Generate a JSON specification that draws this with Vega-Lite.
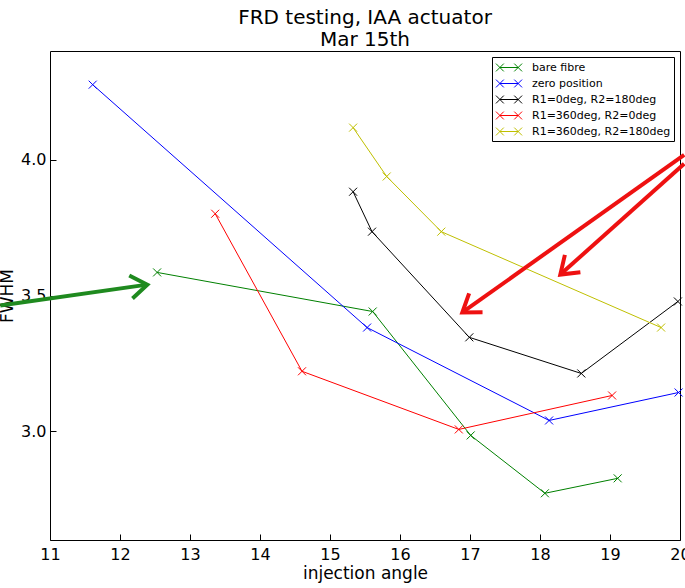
{
  "$schema": "https://vega.github.io/schema/vega-lite/v6.json",
  "width": 630,
  "height": 489,
  "autosize": {"type": "none"},
  "padding": {"left": 50, "top": 51, "right": 5, "bottom": 48},
  "background": "white",
  "title": {
    "text": ["FRD testing, IAA actuator", "Mar 15th"],
    "font": "DejaVu Sans",
    "fontSize": 20,
    "fontWeight": "normal",
    "color": "black",
    "lineHeight": 22,
    "anchor": "middle",
    "offset": 1
  },
  "config": {
    "view": {"stroke": "black", "strokeWidth": 1},
    "axis": {
      "domain": false,
      "grid": false,
      "tickColor": "black",
      "tickSize": 6,
      "offset": -6,
      "labelFlush": false,
      "labelOverlap": false,
      "labelFont": "DejaVu Sans",
      "labelFontSize": 16,
      "labelColor": "black",
      "titleFont": "DejaVu Sans",
      "titleFontSize": 17,
      "titleFontWeight": "normal",
      "titleColor": "black"
    }
  },
  "datasets": {
    "series": [
      {"series": "bare fibre", "angle": 12.53, "fwhm": 3.585},
      {"series": "bare fibre", "angle": 15.61, "fwhm": 3.441},
      {"series": "bare fibre", "angle": 17.01, "fwhm": 2.985},
      {"series": "bare fibre", "angle": 18.07, "fwhm": 2.772},
      {"series": "bare fibre", "angle": 19.11, "fwhm": 2.827},
      {"series": "zero position", "angle": 11.61, "fwhm": 4.276},
      {"series": "zero position", "angle": 15.53, "fwhm": 3.382},
      {"series": "zero position", "angle": 18.13, "fwhm": 3.04},
      {"series": "zero position", "angle": 19.98, "fwhm": 3.143},
      {"series": "R1=0deg, R2=180deg", "angle": 15.33, "fwhm": 3.882},
      {"series": "R1=0deg, R2=180deg", "angle": 15.6, "fwhm": 3.735},
      {"series": "R1=0deg, R2=180deg", "angle": 16.99, "fwhm": 3.346},
      {"series": "R1=0deg, R2=180deg", "angle": 18.59, "fwhm": 3.213},
      {"series": "R1=0deg, R2=180deg", "angle": 19.97, "fwhm": 3.478},
      {"series": "R1=360deg, R2=0deg", "angle": 13.36, "fwhm": 3.801},
      {"series": "R1=360deg, R2=0deg", "angle": 14.6, "fwhm": 3.221},
      {"series": "R1=360deg, R2=0deg", "angle": 16.84, "fwhm": 3.007},
      {"series": "R1=360deg, R2=0deg", "angle": 19.03, "fwhm": 3.132},
      {"series": "R1=360deg, R2=180deg", "angle": 15.33, "fwhm": 4.118},
      {"series": "R1=360deg, R2=180deg", "angle": 15.81, "fwhm": 3.938},
      {"series": "R1=360deg, R2=180deg", "angle": 16.59, "fwhm": 3.735},
      {"series": "R1=360deg, R2=180deg", "angle": 19.73, "fwhm": 3.382}
    ],
    "arrows": [
      {"arrow": "green", "x": 10.29, "y": 3.463, "x2": 12.39, "y2": 3.54},
      {"arrow": "red1", "x": 20.06, "y": 4.018, "x2": 16.89, "y2": 3.4375},
      {"arrow": "red2", "x": 20.06, "y": 3.985, "x2": 18.29, "y2": 3.577}
    ]
  },
  "layer": [
    {
      "data": {"name": "series"},
      "encoding": {
        "x": {
          "field": "angle", "type": "quantitative",
          "scale": {"domain": [11, 20], "nice": false, "zero": false},
          "axis": {"orient": "bottom", "values": [11, 12, 13, 14, 15, 16, 17, 18, 19, 20], "format": "d", "title": "injection angle", "labelPadding": 6, "titlePadding": 3}
        },
        "y": {
          "field": "fwhm", "type": "quantitative",
          "scale": {"domain": [2.6, 4.4], "nice": false, "zero": false},
          "axis": {"orient": "left", "values": [3.0, 3.5, 4.0], "format": ".1f", "title": "FWHM", "labelPadding": 4, "titlePadding": 4}
        },
        "color": {
          "field": "series", "type": "nominal",
          "scale": {
            "domain": ["bare fibre", "zero position", "R1=0deg, R2=180deg", "R1=360deg, R2=0deg", "R1=360deg, R2=180deg"],
            "range": ["#008000", "#0000ff", "#000000", "#ff0000", "#bfbf00"]
          },
          "legend": {
            "title": null,
            "orient": "none",
            "legendX": 442,
            "legendY": 6,
            "strokeColor": "black",
            "fillColor": "white",
            "padding": 3,
            "cornerRadius": 0,
            "labelFont": "DejaVu Sans",
            "labelFontSize": 11,
            "labelColor": "black",
            "labelOffset": 22,
            "rowPadding": 2,
            "symbolType": "M-1,-0.6L0.2,0.6M-1,0.6L0.2,-0.6M-0.4,0L2.4,0M1.8,-0.6L3,0.6M1.8,0.6L3,-0.6",
            "symbolSize": 170,
            "symbolStrokeWidth": 1,
            "symbolFillColor": "transparent"
          }
        }
      },
      "layer": [
        {"mark": {"type": "line", "strokeWidth": 1}},
        {"mark": {"type": "point", "shape": "M-1,-1L1,1M-1,1L1,-1", "size": 64, "filled": false, "strokeWidth": 1, "opacity": 1}}
      ]
    },
    {
      "data": {"name": "arrows"},
      "transform": [{"filter": "datum.arrow === 'green'"}],
      "layer": [
        {
          "mark": {"type": "rule", "color": "#1f8a1f", "strokeWidth": 4, "clip": false},
          "encoding": {
            "x": {"field": "x", "type": "quantitative", "axis": {"orient": "top", "values": [11, 12, 13, 14, 15, 16, 17, 18, 19, 20], "labels": false, "title": null}},
            "y": {"field": "y", "type": "quantitative", "axis": {"orient": "right", "values": [3.0, 3.5, 4.0], "labels": false, "title": null}},
            "x2": {"field": "x2"},
            "y2": {"field": "y2"}
          }
        },
        {
          "mark": {"type": "point", "shape": "M-1,-0.7L0,0L-1,0.7", "size": 1100, "angle": 352, "filled": false, "color": "#1f8a1f", "strokeWidth": 4, "opacity": 1, "clip": false},
          "encoding": {
            "x": {"field": "x2", "type": "quantitative", "axis": null},
            "y": {"field": "y2", "type": "quantitative", "axis": null}
          }
        }
      ]
    },
    {
      "data": {"name": "arrows"},
      "transform": [{"filter": "datum.arrow === 'red1'"}],
      "layer": [
        {
          "mark": {"type": "rule", "color": "#ee1111", "strokeWidth": 4, "clip": false},
          "encoding": {
            "x": {"field": "x", "type": "quantitative", "axis": null},
            "y": {"field": "y", "type": "quantitative", "axis": null},
            "x2": {"field": "x2"},
            "y2": {"field": "y2"}
          }
        },
        {
          "mark": {"type": "point", "shape": "M-1,-0.7L0,0L-1,0.7", "size": 1100, "angle": 144.7, "filled": false, "color": "#ee1111", "strokeWidth": 4, "opacity": 1, "clip": false},
          "encoding": {
            "x": {"field": "x2", "type": "quantitative", "axis": null},
            "y": {"field": "y2", "type": "quantitative", "axis": null}
          }
        }
      ]
    },
    {
      "data": {"name": "arrows"},
      "transform": [{"filter": "datum.arrow === 'red2'"}],
      "layer": [
        {
          "mark": {"type": "rule", "color": "#ee1111", "strokeWidth": 4, "clip": false},
          "encoding": {
            "x": {"field": "x", "type": "quantitative", "axis": null},
            "y": {"field": "y", "type": "quantitative", "axis": null},
            "x2": {"field": "x2"},
            "y2": {"field": "y2"}
          }
        },
        {
          "mark": {"type": "point", "shape": "M-1,-0.7L0,0L-1,0.7", "size": 1100, "angle": 138.1, "filled": false, "color": "#ee1111", "strokeWidth": 4, "opacity": 1, "clip": false},
          "encoding": {
            "x": {"field": "x2", "type": "quantitative", "axis": null},
            "y": {"field": "y2", "type": "quantitative", "axis": null}
          }
        }
      ]
    }
  ]
}
